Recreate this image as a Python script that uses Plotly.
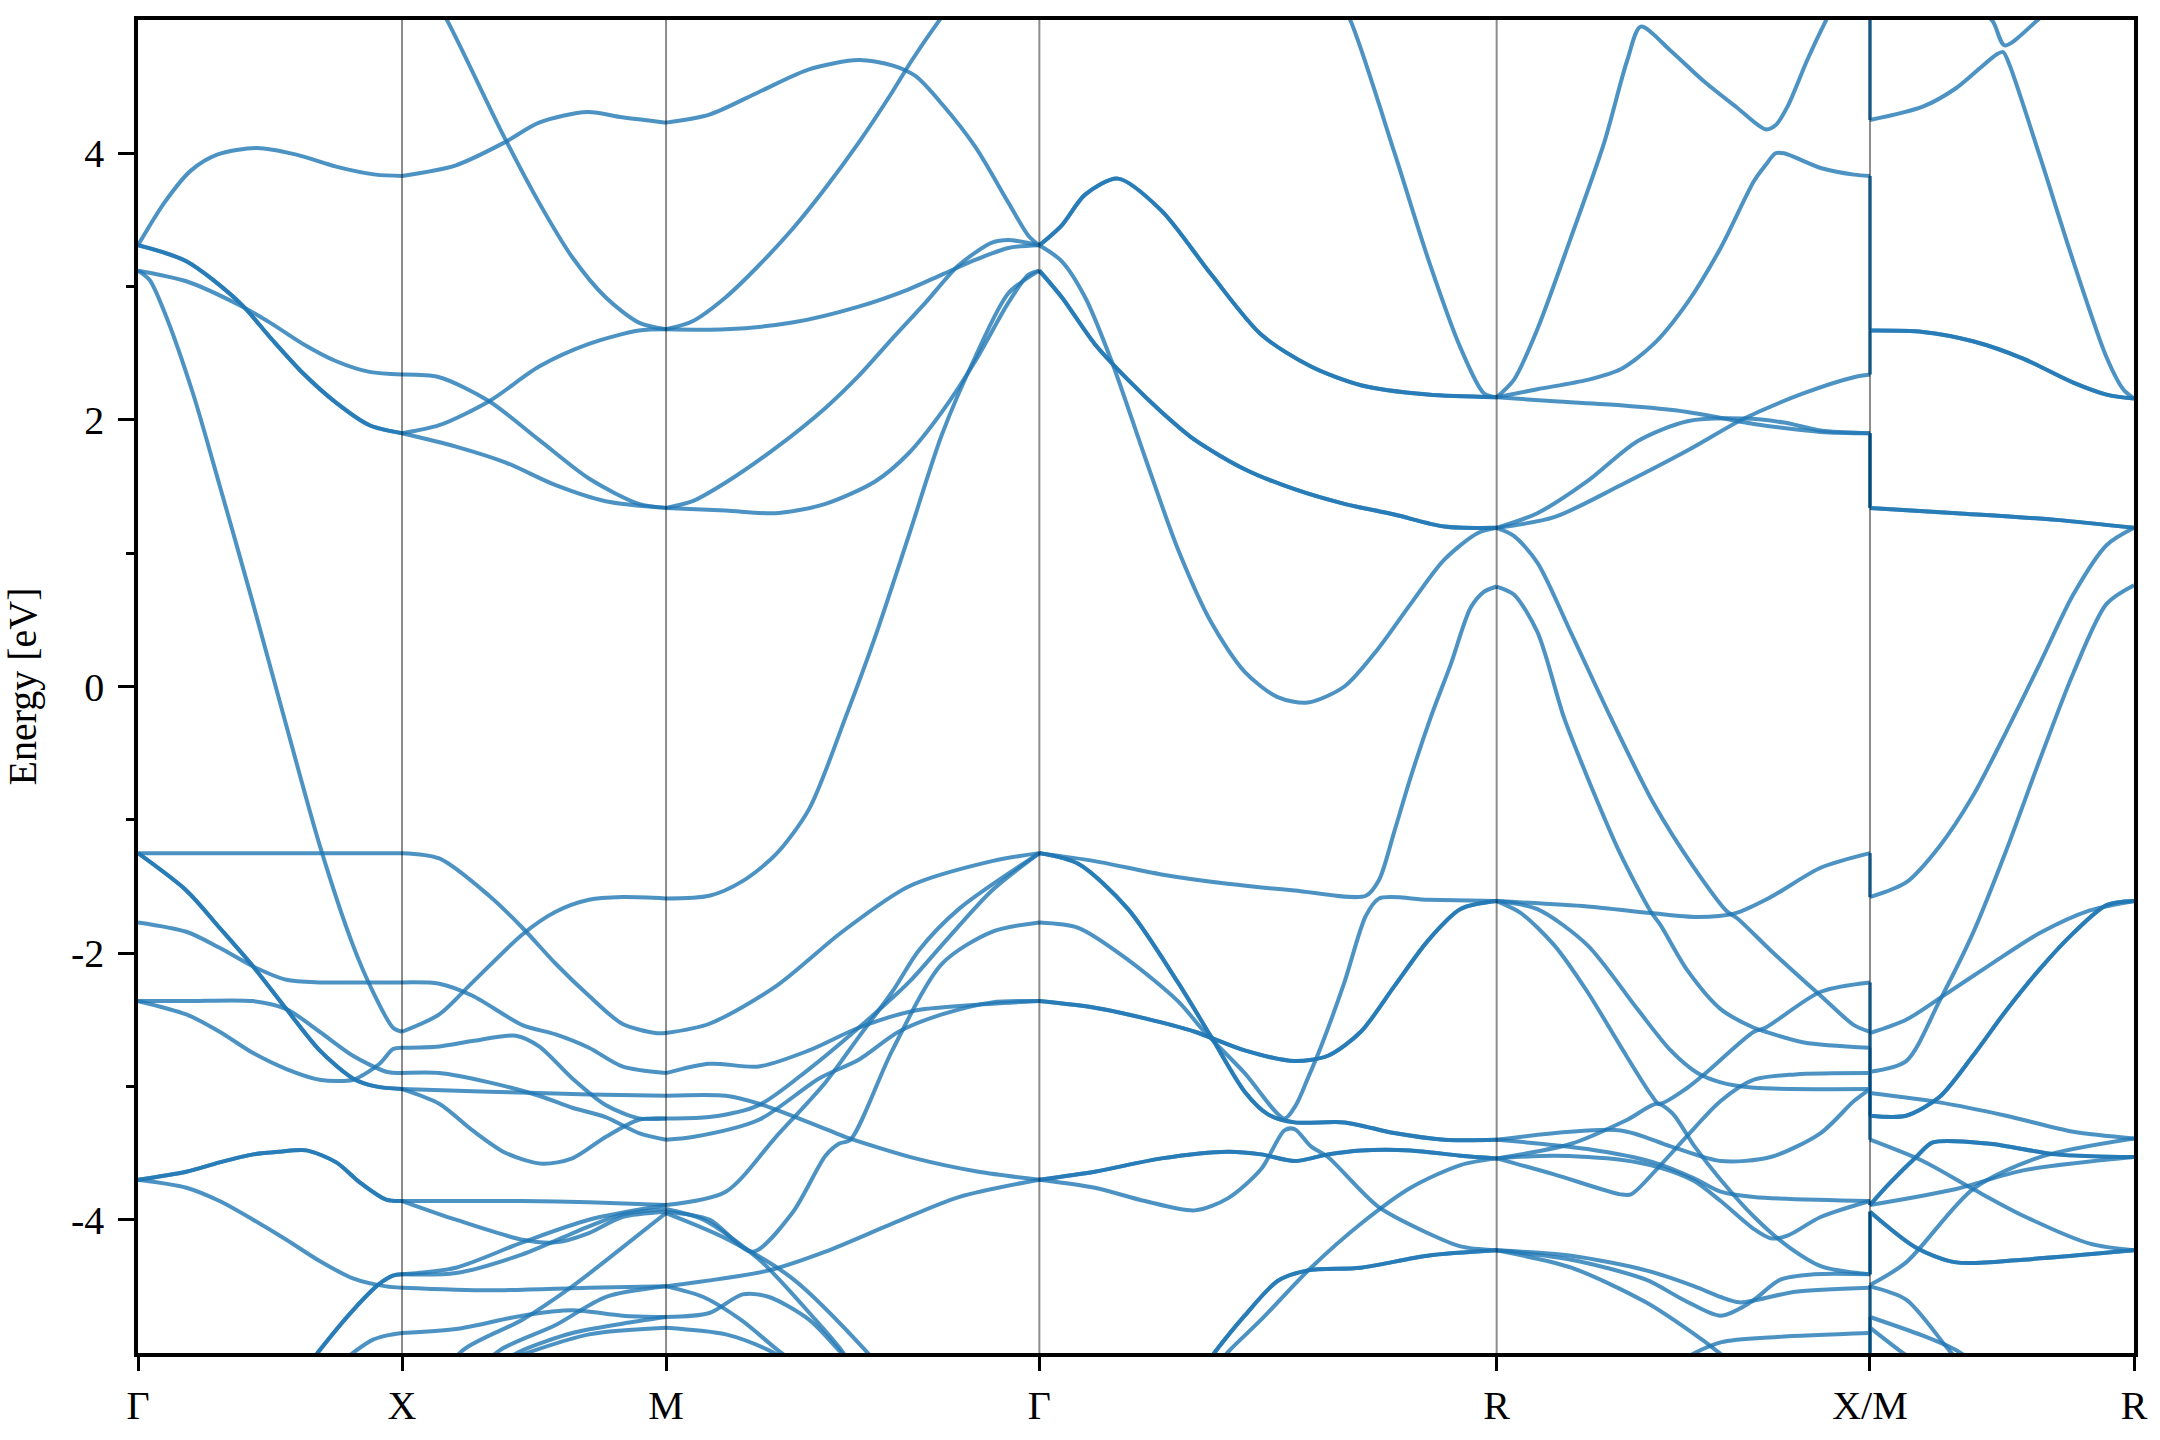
import plotly.graph_objects as go

# High-symmetry path (cumulative k-distance) and labels
kpath_pos = [0.0, 1.0, 2.0, 3.414, 5.146, 6.560, 7.560]
kpath_labels = ["Γ", "X", "M", "Γ", "R", "X/M", "R"]

# Each band: (degeneracy, [(fraction along segment, energy eV), ...])
bands_G_X = [
    (1, [(0, 3.31), (0.1, 3.63), (0.2, 3.87), (0.3, 3.99), (0.45, 4.04), (0.6, 3.99), (0.75, 3.90), (0.9, 3.84), (1, 3.83)]),
    (2, [(0, 3.31), (0.183, 3.19), (0.385, 2.88), (0.5, 2.62), (0.625, 2.35), (0.75, 2.13), (0.877, 1.96), (1, 1.90)]),
    (1, [(0, 3.12), (0.183, 3.04), (0.385, 2.86), (0.5, 2.73), (0.625, 2.57), (0.751, 2.44), (0.877, 2.36), (1, 2.34)]),
    (1, [(0, 3.12), (0.044, 3.05), (0.1, 2.81), (0.208, 2.20), (0.309, 1.51), (0.436, 0.62), (0.549, -0.20), (0.688, -1.19), (0.814, -1.94), (0.89, -2.29), (0.966, -2.56), (1, -2.59)]),
    (1, [(0, -1.25), (0.5, -1.25), (1, -1.25)]),
    (2, [(0, -1.25), (0.183, -1.53), (0.309, -1.81), (0.436, -2.10), (0.562, -2.42), (0.688, -2.73), (0.814, -2.94), (0.9, -3.0), (1, -3.02)]),
    (1, [(0, -1.77), (0.183, -1.84), (0.309, -1.96), (0.436, -2.10), (0.562, -2.20), (0.688, -2.22), (0.877, -2.22), (1, -2.22)]),
    (1, [(0, -2.36), (0.183, -2.36), (0.436, -2.36), (0.562, -2.42), (0.688, -2.59), (0.814, -2.77), (0.94, -2.89), (1, -2.90)]),
    (1, [(0, -2.36), (0.183, -2.46), (0.309, -2.59), (0.436, -2.75), (0.562, -2.87), (0.688, -2.95), (0.814, -2.95), (0.915, -2.83), (0.966, -2.72), (1, -2.71)]),
    (2, [(0, -3.70), (0.183, -3.64), (0.309, -3.57), (0.436, -3.51), (0.537, -3.49), (0.638, -3.48), (0.751, -3.57), (0.84, -3.72), (0.94, -3.85), (1, -3.86)]),
    (1, [(0, -3.70), (0.183, -3.76), (0.309, -3.86), (0.436, -4.00), (0.562, -4.15), (0.688, -4.31), (0.814, -4.44), (0.94, -4.50), (1, -4.51)]),
    (2, [(0.55, -5.35), (0.688, -4.98), (0.814, -4.68), (0.915, -4.48), (0.966, -4.42), (1, -4.41)]),
    (1, [(0.75, -5.1), (0.827, -4.98), (0.89, -4.90), (0.94, -4.87), (1, -4.85)]),
]

bands_X_M = [
    (1, [(0, 3.83), (0.204, 3.91), (0.387, 4.08), (0.519, 4.23), (0.702, 4.31), (0.834, 4.27), (1, 4.23)]),
    (1, [(0, 5.6), (0.173, 4.99), (0.38, 4.15), (0.519, 3.63), (0.645, 3.22), (0.771, 2.92), (0.897, 2.73), (1, 2.68)]),
    (1, [(0, 1.90), (0.204, 1.80), (0.393, 1.68), (0.582, 1.51), (0.771, 1.39), (1, 1.34)]),
    (1, [(0, 1.90), (0.141, 1.96), (0.33, 2.14), (0.519, 2.40), (0.708, 2.57), (0.897, 2.67), (1, 2.68)]),
    (1, [(0, 2.34), (0.141, 2.32), (0.33, 2.14), (0.519, 1.85), (0.708, 1.56), (0.897, 1.37), (1, 1.34)]),
    (1, [(0, -1.25), (0.141, -1.29), (0.33, -1.57), (0.456, -1.81), (0.582, -2.08), (0.708, -2.32), (0.834, -2.53), (0.96, -2.60), (1, -2.60)]),
    (1, [(0, -2.59), (0.141, -2.46), (0.267, -2.22), (0.456, -1.86), (0.582, -1.69), (0.708, -1.60), (0.834, -1.58), (1, -1.59)]),
    (1, [(0, -2.22), (0.141, -2.23), (0.267, -2.32), (0.456, -2.54), (0.582, -2.61), (0.708, -2.71), (0.834, -2.85), (1, -2.90)]),
    (1, [(0, -2.71), (0.141, -2.70), (0.267, -2.66), (0.431, -2.62), (0.519, -2.70), (0.645, -2.94), (0.771, -3.14), (0.897, -3.24), (1, -3.24)]),
    (1, [(0, -2.90), (0.141, -2.90), (0.33, -2.97), (0.519, -3.07), (0.645, -3.16), (0.771, -3.23), (0.897, -3.35), (1, -3.40)]),
    (1, [(0, -3.02), (0.33, -3.04), (0.708, -3.06), (1, -3.07)]),
    (1, [(0, -3.02), (0.141, -3.13), (0.267, -3.33), (0.393, -3.50), (0.531, -3.58), (0.645, -3.54), (0.771, -3.38), (0.897, -3.25), (1, -3.24)]),
    (1, [(0, -3.86), (0.204, -3.86), (0.456, -3.86), (0.708, -3.87), (1, -3.89)]),
    (1, [(0, -3.86), (0.204, -4.00), (0.456, -4.15), (0.582, -4.17), (0.708, -4.10), (0.834, -3.98), (1, -3.94)]),
    (1, [(0, -4.41), (0.204, -4.36), (0.456, -4.17), (0.708, -4.00), (1, -3.89)]),
    (1, [(0, -4.41), (0.204, -4.40), (0.456, -4.26), (0.708, -4.05), (0.834, -3.96), (1, -3.92)]),
    (1, [(0, -4.51), (0.33, -4.53), (0.708, -4.51), (1, -4.50)]),
    (1, [(0, -4.85), (0.204, -4.82), (0.456, -4.72), (0.645, -4.68), (0.834, -4.72), (1, -4.73)]),
    (1, [(0.1, -5.3), (0.23, -4.98), (0.456, -4.75), (0.645, -4.50), (0.834, -4.21), (1, -3.95)]),
    (1, [(0.25, -5.2), (0.37, -4.98), (0.582, -4.79), (0.771, -4.58), (1, -4.50)]),
    (1, [(0.35, -5.1), (0.456, -4.98), (0.645, -4.85), (0.834, -4.78), (1, -4.73)]),
    (1, [(0.4, -5.05), (0.708, -4.86), (1, -4.81)]),
]

bands_M_G = [
    (1, [(0, 4.23), (0.116, 4.29), (0.249, 4.46), (0.383, 4.63), (0.516, 4.70), (0.606, 4.66), (0.668, 4.58), (0.739, 4.37), (0.828, 4.05), (0.917, 3.63), (0.971, 3.38), (1, 3.31)]),
    (1, [(0, 2.68), (0.071, 2.74), (0.16, 2.92), (0.249, 3.16), (0.338, 3.43), (0.427, 3.74), (0.516, 4.08), (0.606, 4.46), (0.659, 4.70), (0.73, 4.99), (0.8, 5.25)]),
    (1, [(0, 2.68), (0.16, 2.68), (0.338, 2.73), (0.516, 2.85), (0.65, 2.98), (0.739, 3.09), (0.828, 3.20), (0.917, 3.29), (1, 3.31)]),
    (1, [(0, 1.34), (0.071, 1.39), (0.16, 1.53), (0.294, 1.79), (0.427, 2.09), (0.516, 2.33), (0.606, 2.61), (0.695, 2.88), (0.784, 3.16), (0.873, 3.33), (0.917, 3.35), (1, 3.31)]),
    (1, [(0, 1.34), (0.16, 1.32), (0.294, 1.30), (0.427, 1.37), (0.561, 1.54), (0.65, 1.75), (0.739, 2.06), (0.828, 2.44), (0.917, 2.88), (0.971, 3.09), (1, 3.12)]),
    (1, [(0, -1.59), (0.116, -1.57), (0.205, -1.46), (0.294, -1.26), (0.383, -0.92), (0.481, -0.23), (0.561, 0.38), (0.65, 1.13), (0.739, 1.89), (0.828, 2.47), (0.917, 2.95), (1, 3.12)]),
    (1, [(0, -2.60), (0.116, -2.53), (0.294, -2.25), (0.472, -1.84), (0.65, -1.50), (0.873, -1.31), (1, -1.25)]),
    (1, [(0, -2.90), (0.116, -2.83), (0.249, -2.85), (0.383, -2.73), (0.516, -2.56), (0.668, -2.43), (0.873, -2.38), (1, -2.36)]),
    (1, [(0, -3.07), (0.16, -3.07), (0.249, -3.13), (0.454, -3.35), (0.481, -3.38), (0.668, -3.54), (0.837, -3.64), (1, -3.70)]),
    (1, [(0, -3.24), (0.116, -3.23), (0.249, -3.14), (0.383, -2.87), (0.516, -2.56), (0.65, -2.22), (0.739, -1.94), (0.873, -1.53), (1, -1.25)]),
    (1, [(0, -3.40), (0.071, -3.38), (0.249, -3.25), (0.41, -2.94), (0.516, -2.80), (0.623, -2.59), (0.739, -2.46), (0.873, -2.37), (1, -2.36)]),
    (1, [(0, -3.89), (0.16, -3.79), (0.294, -3.38), (0.427, -2.97), (0.516, -2.63), (0.606, -2.29), (0.677, -1.98), (0.784, -1.67), (1, -1.25)]),
    (1, [(0, -3.94), (0.116, -4.00), (0.232, -4.24), (0.338, -3.95), (0.427, -3.52), (0.463, -3.43), (0.494, -3.40), (0.606, -2.73), (0.739, -2.08), (0.873, -1.84), (1, -1.77)]),
    (1, [(0, -4.50), (0.276, -4.38), (0.427, -4.24), (0.606, -4.03), (0.784, -3.83), (1, -3.70)]),
    (1, [(0, -3.95), (0.16, -4.14), (0.338, -4.44), (0.534, -4.98), (0.6, -5.2)]),
    (1, [(0, -3.92), (0.1, -4.0), (0.25, -4.3), (0.4, -4.75), (0.47, -4.98), (0.52, -5.2)]),
    (1, [(0, -4.73), (0.116, -4.70), (0.205, -4.56), (0.276, -4.58), (0.383, -4.75), (0.463, -4.98), (0.52, -5.15)]),
    (1, [(0, -4.81), (0.16, -4.86), (0.276, -4.98), (0.35, -5.1)]),
    (1, [(0, -4.50), (0.1, -4.58), (0.2, -4.75), (0.3, -4.98), (0.36, -5.1)]),
]

bands_G_R = [
    (2, [(0, 3.31), (0.049, 3.46), (0.1, 3.69), (0.172, 3.81), (0.267, 3.57), (0.376, 3.09), (0.485, 2.64), (0.594, 2.40), (0.703, 2.26), (0.849, 2.19), (1, 2.17)]),
    (1, [(0, 3.31), (0.049, 3.19), (0.1, 2.92), (0.158, 2.44), (0.231, 1.72), (0.303, 1.03), (0.376, 0.48), (0.449, 0.11), (0.521, -0.08), (0.587, -0.12), (0.667, 0.00), (0.74, 0.28), (0.812, 0.62), (0.885, 0.95), (0.958, 1.15), (1, 1.19)]),
    (2, [(0, 3.12), (0.049, 2.92), (0.121, 2.57), (0.194, 2.30), (0.267, 2.06), (0.34, 1.85), (0.449, 1.63), (0.558, 1.48), (0.667, 1.37), (0.776, 1.29), (0.885, 1.20), (1, 1.19)]),
    (1, [(0.62, 5.4), (0.681, 4.99), (0.776, 4.01), (0.849, 3.22), (0.921, 2.54), (0.972, 2.20), (1, 2.17)]),
    (1, [(0, -1.25), (0.121, -1.31), (0.267, -1.41), (0.412, -1.48), (0.558, -1.53), (0.714, -1.57), (0.743, -1.45), (0.776, -1.09), (0.812, -0.68), (0.856, -0.23), (0.9, 0.17), (0.943, 0.59), (0.972, 0.71), (1, 0.75)]),
    (1, [(0, -1.77), (0.085, -1.81), (0.194, -2.05), (0.303, -2.36), (0.361, -2.59), (0.449, -2.90), (0.536, -3.24), (0.561, -3.14), (0.587, -2.94), (0.616, -2.70), (0.667, -2.22), (0.714, -1.72), (0.743, -1.59), (0.85, -1.60), (1, -1.61)]),
    (2, [(0, -1.25), (0.085, -1.33), (0.194, -1.67), (0.303, -2.22), (0.376, -2.63), (0.449, -3.04), (0.5, -3.21), (0.558, -3.27), (0.667, -3.27), (0.776, -3.35), (0.885, -3.40), (1, -3.40)]),
    (2, [(0, -2.36), (0.121, -2.41), (0.231, -2.49), (0.34, -2.59), (0.449, -2.73), (0.558, -2.81), (0.631, -2.77), (0.703, -2.59), (0.776, -2.25), (0.849, -1.91), (0.921, -1.67), (1, -1.61)]),
    (2, [(0, -3.70), (0.121, -3.64), (0.267, -3.54), (0.412, -3.49), (0.485, -3.51), (0.558, -3.56), (0.631, -3.51), (0.703, -3.48), (0.812, -3.48), (0.921, -3.52), (1, -3.54)]),
    (1, [(0, -3.70), (0.121, -3.76), (0.231, -3.86), (0.34, -3.93), (0.412, -3.84), (0.485, -3.62), (0.536, -3.33), (0.558, -3.32), (0.594, -3.45), (0.631, -3.53), (0.74, -3.90), (0.849, -4.10), (0.921, -4.20), (1, -4.23)]),
    (2, [(0.32, -5.3), (0.387, -4.98), (0.449, -4.72), (0.521, -4.46), (0.587, -4.38), (0.703, -4.36), (0.849, -4.27), (1, -4.23)]),
    (1, [(0.36, -5.2), (0.416, -4.98), (0.485, -4.75), (0.594, -4.36), (0.703, -4.03), (0.812, -3.76), (0.921, -3.59), (1, -3.54)]),
]

bands_R_X = [
    (1, [(0, 2.17), (0.046, 2.30), (0.109, 2.68), (0.198, 3.36), (0.288, 4.08), (0.35, 4.70), (0.386, 4.95), (0.466, 4.77), (0.555, 4.54), (0.645, 4.34), (0.72, 4.18), (0.747, 4.21), (0.779, 4.35), (0.832, 4.70), (0.881, 4.99), (0.95, 5.35), (1, 5.5)]),
    (1, [(0, 2.17), (0.109, 2.23), (0.243, 2.30), (0.332, 2.38), (0.421, 2.57), (0.511, 2.88), (0.6, 3.29), (0.689, 3.79), (0.72, 3.91), (0.747, 4.00), (0.77, 4.00), (0.868, 3.89), (0.957, 3.84), (1, 3.83)]),
    (1, [(0, 2.17), (0.154, 2.14), (0.332, 2.11), (0.511, 2.06), (0.689, 1.97), (0.868, 1.91), (1, 1.90)]),
    (1, [(0, 1.19), (0.109, 1.30), (0.243, 1.54), (0.377, 1.84), (0.511, 1.99), (0.663, 2.01), (0.77, 1.98), (0.868, 1.92), (1, 1.90)]),
    (1, [(0, 1.19), (0.154, 1.27), (0.332, 1.51), (0.511, 1.77), (0.663, 2.01), (0.823, 2.20), (0.957, 2.32), (1, 2.34)]),
    (1, [(0, 0.75), (0.046, 0.69), (0.109, 0.41), (0.18, -0.23), (0.243, -0.68), (0.332, -1.26), (0.413, -1.69), (0.439, -1.79), (0.511, -2.13), (0.6, -2.42), (0.689, -2.56), (0.72, -2.59), (0.823, -2.67), (1, -2.71)]),
    (1, [(0, 1.19), (0.046, 1.13), (0.109, 0.93), (0.198, 0.41), (0.305, -0.23), (0.421, -0.88), (0.529, -1.36), (0.618, -1.69), (0.645, -1.74), (0.734, -1.98), (0.868, -2.32), (0.957, -2.54), (1, -2.59)]),
    (1, [(0, -1.61), (0.243, -1.65), (0.413, -1.70), (0.538, -1.73), (0.64, -1.70), (0.734, -1.58), (0.868, -1.36), (1, -1.25)]),
    (1, [(0, -1.61), (0.065, -1.70), (0.154, -1.94), (0.243, -2.29), (0.332, -2.70), (0.413, -3.06), (0.435, -3.13), (0.511, -3.01), (0.564, -2.89), (0.689, -2.59), (0.72, -2.56), (0.868, -2.29), (1, -2.22)]),
    (1, [(0, -1.61), (0.109, -1.67), (0.243, -1.94), (0.377, -2.42), (0.466, -2.73), (0.538, -2.90), (0.6, -2.97), (0.689, -3.01), (1, -3.02)]),
    (1, [(0, -3.54), (0.154, -3.66), (0.332, -3.81), (0.36, -3.81), (0.439, -3.59), (0.511, -3.37), (0.6, -3.11), (0.689, -2.95), (0.8, -2.91), (1, -2.90)]),
    (1, [(0, -3.40), (0.332, -3.33), (0.466, -3.45), (0.6, -3.56), (0.734, -3.53), (0.868, -3.35), (0.957, -3.11), (1, -3.02)]),
    (1, [(0, -3.40), (0.243, -3.47), (0.421, -3.57), (0.529, -3.69), (0.6, -3.79), (0.689, -3.83), (1, -3.86)]),
    (1, [(0, -3.54), (0.154, -3.52), (0.332, -3.55), (0.439, -3.61), (0.529, -3.71), (0.6, -3.86), (0.689, -4.07), (0.734, -4.14), (0.779, -4.12), (0.868, -3.98), (1, -3.86)]),
    (1, [(0, -3.54), (0.2, -3.43), (0.35, -3.25), (0.43, -3.13), (0.47, -3.20), (0.53, -3.45), (0.6, -3.70), (0.69, -3.98), (0.78, -4.20), (0.87, -4.35), (1, -4.41)]),
    (1, [(0, -4.23), (0.2, -4.27), (0.4, -4.38), (0.53, -4.50), (0.6, -4.58), (0.65, -4.62), (0.7, -4.60), (0.8, -4.54), (1, -4.51)]),
    (1, [(0, -4.23), (0.2, -4.30), (0.4, -4.45), (0.5, -4.60), (0.6, -4.72), (0.68, -4.62), (0.76, -4.45), (0.85, -4.41), (1, -4.41)]),
    (1, [(0, -4.23), (0.2, -4.36), (0.4, -4.62), (0.55, -4.90), (0.62, -5.05), (0.7, -5.2)]),
    (1, [(0.4, -5.3), (0.5, -5.05), (0.6, -4.92), (0.75, -4.88), (1, -4.85)]),
]

bands_M_R = [
    (1, [(0, 4.25), (0.2, 4.35), (0.327, 4.49), (0.478, 4.74), (0.504, 4.76), (0.529, 4.66), (0.643, 3.98), (0.77, 3.19), (0.896, 2.47), (0.959, 2.23), (1, 2.16)]),
    (1, [(0, 5.6), (0.2, 5.4), (0.4, 5.1), (0.465, 4.99), (0.51, 4.81), (0.63, 4.99), (0.8, 5.3), (1, 5.5)]),
    (2, [(0, 2.67), (0.2, 2.66), (0.39, 2.59), (0.58, 2.46), (0.77, 2.28), (0.896, 2.19), (1, 2.16)]),
    (2, [(0, 1.34), (0.327, 1.30), (0.706, 1.25), (1, 1.19)]),
    (1, [(0, -1.58), (0.137, -1.47), (0.263, -1.20), (0.39, -0.82), (0.516, -0.34), (0.643, 0.17), (0.77, 0.69), (0.896, 1.06), (1, 1.19)]),
    (1, [(0, -2.60), (0.137, -2.50), (0.263, -2.34), (0.453, -2.09), (0.643, -1.85), (0.833, -1.68), (1, -1.61)]),
    (1, [(0, -2.89), (0.137, -2.81), (0.263, -2.36), (0.39, -1.85), (0.516, -1.23), (0.643, -0.55), (0.77, 0.10), (0.896, 0.62), (1, 0.76)]),
    (2, [(0, -3.22), (0.137, -3.22), (0.263, -3.08), (0.39, -2.77), (0.516, -2.43), (0.643, -2.12), (0.77, -1.85), (0.896, -1.64), (1, -1.61)]),
    (1, [(0, -3.05), (0.263, -3.12), (0.516, -3.22), (0.77, -3.34), (1, -3.39)]),
    (1, [(0, -3.40), (0.2, -3.56), (0.39, -3.77), (0.58, -3.97), (0.833, -4.18), (1, -4.23)]),
    (2, [(0, -3.89), (0.073, -3.73), (0.175, -3.53), (0.238, -3.42), (0.453, -3.43), (0.706, -3.51), (1, -3.53)]),
    (2, [(0, -3.94), (0.175, -4.21), (0.327, -4.32), (0.58, -4.30), (1, -4.23)]),
    (1, [(0, -3.89), (0.327, -3.77), (0.58, -3.63), (1, -3.53)]),
    (1, [(0, -4.49), (0.137, -4.32), (0.39, -3.77), (0.643, -3.53), (1, -3.39)]),
    (1, [(0, -4.73), (0.2, -4.87), (0.327, -4.98), (0.45, -5.15)]),
    (1, [(0, -4.81), (0.111, -4.98), (0.2, -5.1)]),
    (1, [(0, -4.50), (0.137, -4.60), (0.3, -4.98), (0.4, -5.2)]),
]

# Band energies on both sides of the X|M discontinuity (band-index order)
jump_at_X = [5.5, 3.83, 2.34, 1.90, 1.90, -1.25, -2.22, -2.59, -2.71, -2.90, -3.02, -3.02, -3.86, -3.86, -4.41, -4.41, -4.51, -4.85, -5.3, -5.3]
jump_at_M = [4.25, 2.67, 2.67, 1.34, 1.34, -1.58, -2.60, -2.89, -3.05, -3.22, -3.22, -3.40, -3.89, -3.89, -3.94, -3.94, -4.49, -4.50, -4.73, -4.81]

segments = [
    (0, 1, bands_G_X),
    (1, 2, bands_X_M),
    (2, 3, bands_M_G),
    (3, 4, bands_G_R),
    (4, 5, bands_R_X),
    (5, 6, bands_M_R),
]

LINE_COLOR = "rgba(31,119,180,0.8)"
LINE_W = 4
FONT = "Liberation Serif, Times New Roman, serif"
FS = 40

fig = go.Figure()
for i0, i1, bands in segments:
    k0, k1 = kpath_pos[i0], kpath_pos[i1]
    for deg, pts in bands:
        xs = [k0 + f * (k1 - k0) for f, _ in pts]
        ys = [e for _, e in pts]
        for _ in range(deg):
            fig.add_trace(go.Scatter(
                x=xs, y=ys, mode="lines",
                line=dict(color=LINE_COLOR, width=LINE_W, shape="spline", smoothing=0.8),
                showlegend=False, hoverinfo="skip"))

kj = kpath_pos[5]
for ex, em in zip(jump_at_X, jump_at_M):
    fig.add_trace(go.Scatter(
        x=[kj, kj], y=[ex, em], mode="lines",
        line=dict(color=LINE_COLOR, width=LINE_W),
        showlegend=False, hoverinfo="skip"))

for k in kpath_pos[1:-1]:
    fig.add_shape(type="line", x0=k, x1=k, y0=-5, y1=5, xref="x", yref="y",
                  line=dict(color="rgba(0,0,0,0.45)", width=2), layer="above")

fig.update_layout(
    width=2160, height=1440,
    margin=dict(l=138, r=19, t=20, b=83),
    paper_bgcolor="white", plot_bgcolor="white",
    font=dict(family=FONT, size=FS, color="black"),
    xaxis=dict(
        range=[kpath_pos[0], kpath_pos[-1]],
        tickvals=kpath_pos, ticktext=kpath_labels,
        ticks="outside", ticklen=14, tickwidth=3, tickcolor="black",
        showline=True, linewidth=3.5, linecolor="black", mirror=True,
        showgrid=False, zeroline=False,
        tickfont=dict(family=FONT, size=FS, color="black"),
    ),
    yaxis=dict(
        range=[-5, 5],
        tickvals=[-4, -2, 0, 2, 4], ticktext=["-4", "-2", "0", "2", "4"],
        ticks="outside", ticklen=16, tickwidth=2.5, tickcolor="black",
        ticklabelstandoff=6,
        minor=dict(tickvals=[-3, -1, 1, 3], ticks="outside", ticklen=8,
                   tickwidth=2.5, tickcolor="black", showgrid=False),
        showline=True, linewidth=3.5, linecolor="black", mirror=True,
        showgrid=False, zeroline=False,
        tickfont=dict(family=FONT, size=FS, color="black"),
        title=dict(text="Energy [eV]", font=dict(family=FONT, size=FS, color="black"), standoff=30),
        automargin=False,
    ),
)

fig.write_html("out.html", config={"displayModeBar": False},
               post_script="document.body.style.margin='0px';")
